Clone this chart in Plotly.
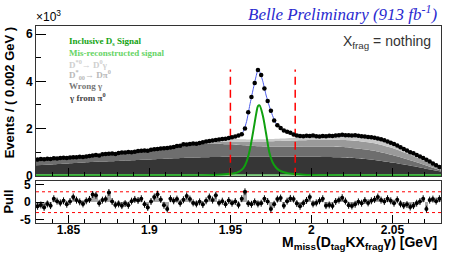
import math
import plotly.graph_objects as go

# ---------------- data (event counts in units of 10^3) ----------------
bin_low, bin_width, n_bins = 1.83, 0.002, 125
bin_centers = [round(bin_low + bin_width * (i + 0.5), 4) for i in range(n_bins)]

data_k = [
    0.69, 0.71, 0.70, 0.72, 0.71, 0.74, 0.73, 0.75, 0.76, 0.75,
    0.77, 0.78, 0.78, 0.80, 0.79, 0.82, 0.84, 0.86, 0.88, 0.86,
    0.91, 0.92, 0.93, 0.94, 0.92, 0.96, 0.98, 0.99, 1.01, 1.00,
    1.02, 1.05, 1.06, 1.07, 1.06, 1.10, 1.12, 1.13, 1.15, 1.17,
    1.18, 1.20, 1.22, 1.26, 1.27, 1.33, 1.32, 1.35, 1.37, 1.36,
    1.39, 1.42, 1.45, 1.47, 1.49, 1.51, 1.53, 1.56, 1.57, 1.60,
    1.63, 1.66, 1.70, 1.76, 2.00, 2.69, 3.33, 3.93, 4.48, 4.27,
    3.69, 3.17, 2.75, 2.34, 2.14, 2.02, 1.92, 1.86, 1.82, 1.75,
    1.70, 1.68, 1.67, 1.69, 1.68, 1.70, 1.67, 1.66, 1.68, 1.67,
    1.69, 1.68, 1.70, 1.71, 1.74, 1.71, 1.72, 1.70, 1.71, 1.69,
    1.67, 1.66, 1.64, 1.63, 1.61, 1.58, 1.55, 1.50, 1.45, 1.40,
    1.34, 1.28, 1.21, 1.13, 1.07, 1.00, 0.95, 0.88, 0.82, 0.75,
    0.68, 0.60, 0.52, 0.45, 0.37,
]
data_err_k = [math.sqrt(v * 1000.0) / 1000.0 for v in data_k]

pull = [
    -1.2, -0.8, -1.5, -0.5, -1.0, 1.0, 0.3, -0.2, 0.4, -0.6,
    0.2, 1.5, 0.6, 0.1, -0.5, 0.4, 0.8, 2.2, 2.0, -0.3,
    0.6, 0.9, 2.8, 0.2, -0.8, -0.5, -1.0, -0.4, -0.9, 0.3,
    0.8, 0.5, 1.0, -0.6, -1.5, 0.2, 1.5, 2.3, 0.8, -0.9,
    -2.0, 1.0, 0.4, 0.9, -0.3, 0.7, 1.8, 0.9, -0.2, -0.5,
    0.1, -0.7, 0.4, 1.5, 0.6, 2.0, -0.2, 0.3, -0.6, 0.5,
    -0.3, 0.2, -0.8, 1.0, 3.0, -0.4, -0.6, 0.1, -0.5, -0.3,
    1.0, 0.2, -2.0, -0.6, 0.9, 1.2, -1.0, 0.3, 1.1, 0.9,
    -0.4, -1.2, -0.3, 0.5, 1.5, -0.5, -0.2, 0.4, 1.0, -1.0,
    -0.8, -1.1, 0.2, 0.6, 1.3, 0.3, -0.9, -1.1, -0.6, 0.1,
    -0.3, 0.5, -0.2, 0.4, 0.8, 1.5, 0.6, 0.2, 1.0, 0.4,
    -0.3, 0.7, -0.5, -1.0, -0.7, -1.4, -1.0, -0.3, 0.2, 1.0,
    -2.0, 0.6, 0.9, 0.3, 1.0,
]
pull_err = [1.0] * n_bins
pull_ticks = [-5, 0, 5]

# background components, cumulative stack tops (10^3 events)
m_bg = [1.83, 1.84, 1.85, 1.86, 1.87, 1.88, 1.89, 1.90, 1.91, 1.92, 1.93, 1.94, 1.95,
        1.96, 1.97, 1.98, 1.99, 2.00, 2.01, 2.02, 2.03, 2.04, 2.05, 2.06, 2.07, 2.08]
gamma_pi0_top = [0.45, 0.48, 0.52, 0.56, 0.60, 0.63, 0.66, 0.69, 0.72, 0.75, 0.77, 0.79, 0.80,
                 0.80, 0.80, 0.80, 0.80, 0.80, 0.79, 0.77, 0.73, 0.66, 0.56, 0.44, 0.31, 0.18]
wrong_gamma_top = [0.70, 0.73, 0.76, 0.82, 0.89, 0.95, 1.02, 1.09, 1.18, 1.30, 1.36, 1.36, 1.33,
                   1.28, 1.24, 1.23, 1.23, 1.24, 1.24, 1.22, 1.14, 1.04, 0.88, 0.68, 0.46, 0.22]
dstar00_top = [0.70, 0.73, 0.76, 0.82, 0.89, 0.95, 1.02, 1.09, 1.18, 1.30, 1.37, 1.42, 1.45,
               1.45, 1.45, 1.47, 1.49, 1.51, 1.52, 1.51, 1.46, 1.36, 1.18, 0.92, 0.62, 0.27]
dstar0_top = [0.70, 0.73, 0.76, 0.82, 0.89, 0.95, 1.02, 1.09, 1.18, 1.30, 1.38, 1.48, 1.55,
              1.54, 1.55, 1.57, 1.61, 1.64, 1.66, 1.68, 1.65, 1.58, 1.36, 1.02, 0.70, 0.33]
misreco = [0.02, 0.02, 0.02, 0.02, 0.02, 0.02, 0.02, 0.02, 0.02, 0.02, 0.02, 0.02, 0.02,
           0.02, 0.02, 0.02, 0.02, 0.02, 0.02, 0.02, 0.02, 0.02, 0.02, 0.02, 0.02, 0.02]

# inclusive Ds signal curve
m_sig = [1.83, 1.90, 1.93, 1.94, 1.945, 1.95, 1.952, 1.954, 1.956, 1.958, 1.960, 1.962,
         1.964, 1.966, 1.967, 1.968, 1.970, 1.972, 1.974, 1.976, 1.978, 1.980, 1.983,
         1.986, 1.99, 1.995, 2.00, 2.01, 2.03, 2.08]
signal = [0.003, 0.006, 0.015, 0.03, 0.05, 0.08, 0.10, 0.13, 0.20, 0.32, 0.60, 1.10,
          1.85, 2.65, 2.95, 2.98, 2.55, 1.80, 1.00, 0.58, 0.36, 0.24, 0.15,
          0.10, 0.07, 0.045, 0.03, 0.02, 0.01, 0.004]

# total fit curve
m_fit = [1.83, 1.84, 1.85, 1.86, 1.87, 1.88, 1.89, 1.90, 1.91, 1.92, 1.93, 1.94, 1.945,
         1.95, 1.952, 1.954, 1.956, 1.958, 1.960, 1.962, 1.964, 1.966, 1.967, 1.968,
         1.970, 1.972, 1.974, 1.976, 1.978, 1.980, 1.983, 1.986, 1.99, 1.995, 2.00,
         2.01, 2.02, 2.03, 2.04, 2.05, 2.06, 2.07, 2.08]
total_fit = [0.70, 0.73, 0.76, 0.82, 0.89, 0.95, 1.02, 1.09, 1.18, 1.30, 1.39, 1.51, 1.56,
             1.62, 1.65, 1.68, 1.72, 1.88, 2.30, 3.00, 3.65, 4.25, 4.48, 4.42,
             4.00, 3.42, 2.95, 2.55, 2.24, 2.08, 1.92, 1.83, 1.73, 1.68, 1.68,
             1.68, 1.70, 1.66, 1.59, 1.37, 1.03, 0.71, 0.33]

signal_window = [1.95, 1.99]
window_top = 4.5
pull_band = [-3, 3]

legend_entries = [
    ("Inclusive D<sub>s</sub> Signal", "#13a313"),
    ("Mis-reconstructed signal", "#66d466"),
    ("D<sup>*0</sup>→ D<sup>0</sup>γ", "#cfcfcf"),
    ("D<sup>*</sup><sub>00</sub>→ Dπ<sup>0</sup>", "#b9b9b9"),
    ("Wrong γ", "#777777"),
    ("γ from π<sup>0</sup>", "#444444"),
]

# ---------------- figure ----------------
W, H = 449, 266
def px_x(p):
    return p / W
def px_y(p):
    return 1 - p / H

fig = go.Figure()

fill_specs = [
    (gamma_pi0_top, "#363636", "tozeroy"),
    (wrong_gamma_top, "#6e6e6e", "tonexty"),
    (dstar00_top, "#9a9a9a", "tonexty"),
    (dstar0_top, "#c9c9c9", "tonexty"),
]
for ys, col, fill in fill_specs:
    fig.add_trace(go.Scatter(x=m_bg, y=ys, mode="lines", fill=fill, fillcolor=col,
                             line=dict(width=0, shape="spline", smoothing=0.6),
                             xaxis="x", yaxis="y", hoverinfo="skip", showlegend=False))

fig.add_trace(go.Scatter(x=m_bg, y=misreco, mode="lines",
                         line=dict(color="#7ee07e", width=2),
                         xaxis="x", yaxis="y", showlegend=False))
fig.add_trace(go.Scatter(x=m_sig, y=signal, mode="lines",
                         line=dict(color="#10a010", width=2, shape="spline", smoothing=0.8),
                         xaxis="x", yaxis="y", showlegend=False))
fig.add_trace(go.Scatter(x=m_fit, y=total_fit, mode="lines",
                         line=dict(color="#4a5ae8", width=1, shape="spline", smoothing=0.6),
                         xaxis="x", yaxis="y", showlegend=False))
for xv in signal_window:
    fig.add_trace(go.Scatter(x=[xv, xv], y=[0, window_top], mode="lines",
                             line=dict(color="#ff0000", width=1.5, dash="8px,5px"),
                             xaxis="x", yaxis="y", showlegend=False))
fig.add_trace(go.Scatter(x=bin_centers, y=data_k, mode="markers",
                         marker=dict(color="black", size=4.5),
                         error_y=dict(type="data", array=data_err_k, color="black", thickness=1, width=0),
                         error_x=dict(type="constant", value=bin_width / 2, color="black", thickness=1, width=0),
                         xaxis="x", yaxis="y", showlegend=False))

# pull panel (x2 / y2)
fig.add_trace(go.Bar(x=bin_centers, y=pull, width=bin_width, marker=dict(color="#a8a8a8", line=dict(width=0)),
                     xaxis="x2", yaxis="y2", showlegend=False))
for yv in pull_band:
    fig.add_trace(go.Scatter(x=[bin_low, bin_low + bin_width * n_bins], y=[yv, yv], mode="lines",
                             line=dict(color="#ff0000", width=1, dash="3px,3px"),
                             xaxis="x2", yaxis="y2", showlegend=False))
fig.add_trace(go.Scatter(x=bin_centers, y=pull, mode="markers",
                         marker=dict(color="black", size=4),
                         error_y=dict(type="data", array=pull_err, color="black", thickness=1, width=0),
                         error_x=dict(type="constant", value=bin_width / 2, color="black", thickness=1, width=0),
                         xaxis="x2", yaxis="y2", showlegend=False))

xdom = [px_x(36), px_x(441)]
tickfont = dict(family="Liberation Sans, Arial", size=12, color="black", weight="bold")
xcommon = dict(range=[1.83, 2.08], domain=xdom, showline=True, mirror=True, linecolor="#333333",
               linewidth=1, ticks="inside", ticklen=8, tickcolor="black", tickwidth=1,
               tickmode="array", tickvals=[1.85, 1.9, 1.95, 2.0, 2.05],
               ticktext=["1.85", "1.9", "1.95", "2", "2.05"],
               minor=dict(ticks="inside", ticklen=4, tickcolor="black", tickmode="linear",
                          tick0=1.83, dtick=0.01, showgrid=False),
               showgrid=False, zeroline=False, fixedrange=True)

fig.update_layout(
    width=W, height=H, margin=dict(l=0, r=0, t=0, b=0),
    paper_bgcolor="white", plot_bgcolor="white", showlegend=False, bargap=0,
    xaxis=dict(**xcommon, anchor="y", showticklabels=False),
    xaxis2=dict(**xcommon, anchor="y2", tickfont=dict(tickfont), ticklabelstandoff=-4),
    yaxis=dict(domain=[px_y(180.5), px_y(27)], range=[0, 6.33], anchor="x",
               showline=True, mirror=True, linecolor="#333333", linewidth=1,
               ticks="inside", ticklen=10, tickcolor="black", tickmode="array",
               tickvals=[0, 2, 4, 6], ticktext=["0", "2", "4", "6"], tickfont=dict(tickfont),
               minor=dict(ticks="inside", ticklen=5, tickcolor="black", tickmode="linear",
                          tick0=0, dtick=1, showgrid=False),
               showgrid=False, zeroline=False),
    yaxis2=dict(domain=[px_y(229), px_y(186.3)], range=[-6, 6], anchor="x2",
                showline=True, mirror=True, linecolor="#333333", linewidth=1,
                ticks="inside", ticklen=8, tickcolor="black", tickmode="array",
                tickvals=pull_ticks, showticklabels=False,
                showgrid=False, zeroline=False),
)

sans_b = dict(family="Liberation Sans, Arial", color="black", weight="bold")
ann = []
ann.append(dict(text="Events / ( 0.002 GeV )", textangle=-90, x=px_x(9), y=px_y(25),
                xanchor="center", yanchor="top", font=dict(**sans_b, size=13)))
ann.append(dict(text="Pull", textangle=-90, x=px_x(9), y=px_y(207),
                xanchor="center", yanchor="middle", font=dict(**sans_b, size=13)))
ann.append(dict(text="M<sub>miss</sub>(D<sub>tag</sub>KX<sub>frag</sub>γ) [GeV]",
                x=px_x(439), y=px_y(250), xanchor="right", yanchor="middle",
                font=dict(**sans_b, size=14)))
ann.append(dict(text="×10<sup>3</sup>", x=px_x(34), y=px_y(27), xanchor="left", yanchor="bottom",
                font=dict(family="Liberation Sans, Arial", size=12, color="black")))
ann.append(dict(text="Belle Preliminary (913 fb<sup>-1</sup>)", x=px_x(439), y=px_y(13),
                xanchor="right", yanchor="middle",
                font=dict(family="Liberation Serif, Times New Roman", size=17, color="#2a2ad0",
                          style="italic")))
ann.append(dict(text="X<sub>frag</sub> = nothing", x=px_x(433), y=px_y(43),
                xanchor="right", yanchor="middle",
                font=dict(family="Liberation Sans, Arial", size=14, color="#333333")))
leg_y = [43, 54, 65.5, 77, 88.5, 99.5]
for (txt, col), yy in zip(legend_entries, leg_y):
    ann.append(dict(text="<b>" + txt + "</b>", x=px_x(67), y=px_y(yy), xanchor="left", yanchor="middle",
                    font=dict(family="Liberation Serif, Times New Roman", size=9, color=col)))
for a in ann:
    a.update(xref="paper", yref="paper", showarrow=False)
# pull-panel tick labels placed through the pull axis scale
for v in pull_ticks:
    ann.append(dict(text=str(v), xref="paper", yref="y2", x=px_x(33), y=v,
                    xanchor="right", yanchor="middle", showarrow=False,
                    font=dict(**sans_b, size=12)))
fig.update_layout(annotations=ann)

fig.write_html("out.html", config={"displayModeBar": False},
               post_script="document.body.style.margin='0';document.body.style.padding='0';")
